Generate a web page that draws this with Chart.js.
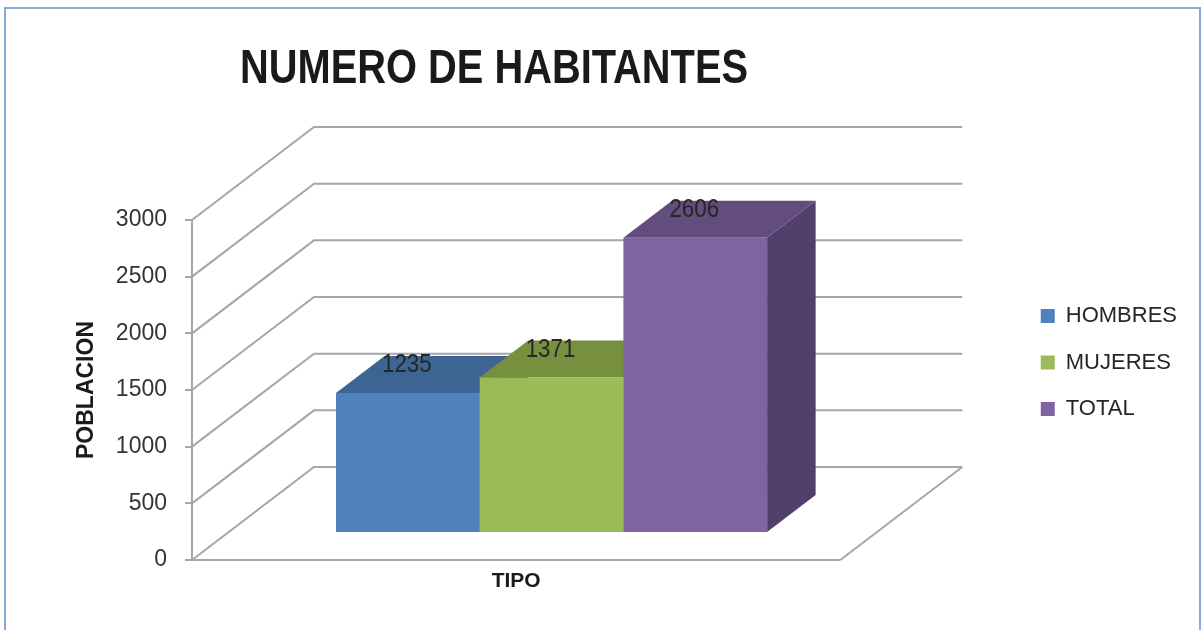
<!DOCTYPE html>
<html>
<head>
<meta charset="utf-8">
<title>NUMERO DE HABITANTES</title>
<script src="https://cdn.jsdelivr.net/npm/chart.js@4.4.1/dist/chart.umd.min.js"></script>
<style>
  html, body { margin: 0; padding: 0; background: #fff; }
  #wrap { position: relative; width: 1201px; height: 630px; overflow: hidden; }
  #frame { position: absolute; left: 4px; top: 7px; width: 1193px; height: 640px; border: 2px solid #86A9DC; pointer-events: none; }
</style>
</head>
<body>
<div id="wrap">
  <canvas id="habChart"></canvas>
  <div id="frame"></div>
</div>
<script>
// Chart data
const categories = ['HOMBRES', 'MUJERES', 'TOTAL'];
const poblacion = [1235, 1371, 2606];
const yMax = 3000;
const yStep = 500;

// Colours: front, top and right side of each box
const faceColors = [
  { front: '#4F81BD', top: '#3D6493', side: '#344F76' },
  { front: '#9BBB59', top: '#77903F', side: '#637934' },
  { front: '#8064A2', top: '#634D7F', side: '#533F6B' }
];

const sans = '"Liberation Sans", Arial, sans-serif';

// 3D look: offset of the back wall, and where the bars sit in depth
const DEPTH = { x: 122, y: 93 };
const BAR_FRONT = 27 / 93;
const BAR_DEPTH = 37 / 93;

// text squeezed sideways to look like a narrow face
function narrowText(ctx, text, x, y, squeeze) {
  ctx.save();
  ctx.translate(x, y);
  ctx.scale(squeeze, 1);
  ctx.fillText(text, 0, 0);
  ctx.restore();
}

// Draws walls / floor grid, the top and side faces, then the value labels
const threeD = {
  id: 'threeD',
  beforeDatasetsDraw(chart) {
    const { ctx, chartArea: a, scales: { y } } = chart;
    ctx.save();
    ctx.strokeStyle = '#A6A6A6';
    ctx.lineWidth = 2;
    y.ticks.forEach(t => {
      const py = y.getPixelForValue(t.value);
      ctx.beginPath();
      if (t.value === 0) {
        ctx.moveTo(a.right, py);
        ctx.lineTo(a.right + DEPTH.x, py - DEPTH.y);
        ctx.moveTo(a.left, py);
        ctx.lineTo(a.right, py);
        ctx.moveTo(a.left, py);
      } else {
        ctx.moveTo(a.left, py);
      }
      ctx.lineTo(a.left + DEPTH.x, py - DEPTH.y);
      ctx.lineTo(a.right + DEPTH.x, py - DEPTH.y);
      ctx.stroke();
    });
    ctx.restore();

    // move into the plane of the bars, kept until afterDatasetsDraw
    ctx.save();
    ctx.translate(DEPTH.x * BAR_FRONT, -DEPTH.y * BAR_FRONT);
    const dx = DEPTH.x * BAR_DEPTH, dy = DEPTH.y * BAR_DEPTH;
    chart.data.datasets.forEach((ds, i) => {
      const bar = chart.getDatasetMeta(i).data[0];
      const l = bar.x - bar.width / 2, r = bar.x + bar.width / 2;
      const t = bar.y, b = bar.base;
      ctx.fillStyle = faceColors[i].side;
      ctx.beginPath();
      ctx.moveTo(r, t);
      ctx.lineTo(r + dx, t - dy);
      ctx.lineTo(r + dx, b - dy);
      ctx.lineTo(r, b);
      ctx.closePath();
      ctx.fill();
      ctx.fillStyle = faceColors[i].top;
      ctx.beginPath();
      ctx.moveTo(l, t);
      ctx.lineTo(l + dx, t - dy);
      ctx.lineTo(r + dx, t - dy);
      ctx.lineTo(r, t);
      ctx.closePath();
      ctx.fill();
    });
  },
  afterDatasetsDraw(chart) {
    const ctx = chart.ctx;
    ctx.font = '26px ' + sans;
    ctx.fillStyle = '#262626';
    ctx.textAlign = 'center';
    ctx.textBaseline = 'middle';
    chart.data.datasets.forEach((ds, i) => {
      const bar = chart.getDatasetMeta(i).data[0];
      narrowText(ctx, String(ds.data[0]), bar.x - 1, bar.y - 28, 0.86);
    });
    ctx.restore();
  },
  afterDraw(chart) {
    const ctx = chart.ctx;
    const text = 'NUMERO DE HABITANTES';
    ctx.save();
    ctx.font = 'bold 48px ' + sans;
    ctx.fillStyle = '#1A1A1A';
    ctx.textAlign = 'center';
    ctx.textBaseline = 'alphabetic';
    narrowText(ctx, text, 494, 83, 508 / ctx.measureText(text).width);
    ctx.restore();
  }
};

const datasets = categories.map((name, i) => ({
  label: name,
  data: [poblacion[i]],
  backgroundColor: faceColors[i].front,
  borderWidth: 0,
  xAxisID: 'x',
  yAxisID: 'y',
  clip: false
}));

new Chart(document.getElementById('habChart'), {
  type: 'bar',
  data: { labels: [''], datasets: datasets },
  plugins: [threeD],
  options: {
    responsive: true,
    maintainAspectRatio: false,
    animation: false,
    events: [],
    categoryPercentage: 0.665,
    barPercentage: 1,
    layout: { padding: { top: 95, right: 14, bottom: 0, left: 0 } },
    plugins: {
      title: { display: false },
      tooltip: { enabled: false },
      legend: {
        position: 'right',
        labels: {
          boxWidth: 14,
          boxHeight: 14,
          padding: 24.5,
          color: '#262626',
          font: { family: sans, size: 22 }
        }
      }
    },
    scales: {
      x: {
        type: 'category',
        position: 'bottom',
        grid: { display: false },
        border: { display: false },
        ticks: { display: false },
        title: {
          display: true,
          text: 'TIPO',
          color: '#1A1A1A',
          font: { family: sans, size: 21, weight: 'bold' },
          padding: { top: 0, bottom: 36 }
        },
        afterFit(s) { s.height = 70; }
      },
      y: {
        min: 0,
        max: yMax,
        position: 'left',
        ticks: {
          stepSize: yStep,
          padding: 18,
          color: '#333333',
          font: { family: sans, size: 23 },
          callback: v => String(v)
        },
        grid: {
          drawOnChartArea: false,
          drawTicks: true,
          tickLength: 7,
          color: '#A6A6A6',
          lineWidth: 2
        },
        border: { display: true, color: '#A6A6A6', width: 2 },
        title: {
          display: true,
          text: 'POBLACION',
          color: '#1A1A1A',
          font: { family: sans, size: 23, weight: 'bold' },
          padding: { top: 73, bottom: 0 }
        },
        afterFit(s) { s.width = 192; }
      },
      top: {
        type: 'linear',
        position: 'top',
        grid: { display: false },
        border: { display: false },
        ticks: { display: false },
        afterFit(s) { s.height = 125; }
      },
      gap: {
        type: 'linear',
        position: 'right',
        grid: { display: false },
        border: { display: false },
        ticks: { display: false },
        afterFit(s) { s.width = 176; }
      }
    }
  }
});
</script>
</body>
</html>
